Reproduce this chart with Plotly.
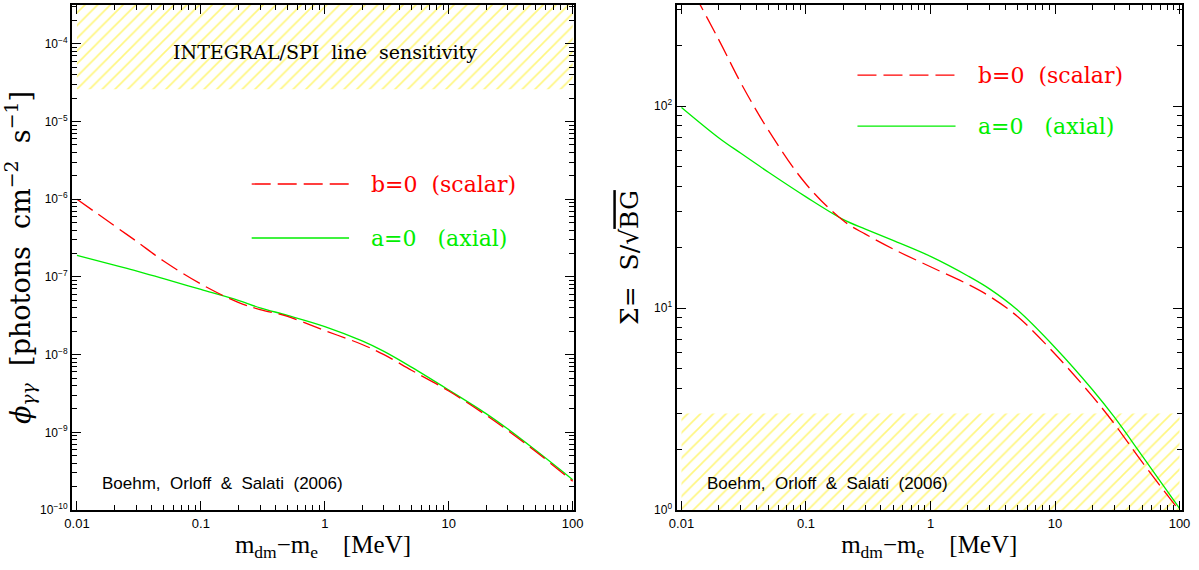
import plotly.graph_objects as go

# ---------------- data ----------------
mass = [0.01, 0.02, 0.03, 0.05, 0.1, 0.2, 0.3, 0.5, 1, 2, 3, 5, 10, 20, 30, 50, 100]

# left panel: photon flux [photons cm^-2 s^-1]
flux_scalar = [1.0e-6, 4.57e-7, 2.9e-7, 1.6e-7, 8.1e-8, 4.7e-8, 3.8e-8, 3.1e-8, 2.04e-8,
               1.35e-8, 1.0e-8, 6.3e-9, 3.4e-9, 1.66e-9, 1.05e-9, 5.7e-10, 2.35e-10]
flux_axial = [1.9e-7, 1.42e-7, 1.2e-7, 9.5e-8, 6.9e-8, 5.0e-8, 4.0e-8, 3.2e-8, 2.3e-8,
              1.5e-8, 1.1e-8, 6.9e-9, 3.5e-9, 1.74e-9, 1.1e-9, 5.9e-10, 2.45e-10]

# right panel: significance S/sqrt(BG)
sig_scalar = [470, 212, 130, 75.7, 41.1, 27.0, 23.2, 19.6, 16.0,
              13.1, 11.4, 9.07, 5.92, 3.65, 2.67, 1.73, 0.99]
sig_axial = [98.4, 69.5, 58.3, 47.0, 35.5, 27.4, 24.6, 21.6, 18.0,
             14.4, 12.4, 9.77, 6.38, 3.94, 2.88, 1.86, 1.02]

# hatched exclusion / sensitivity bands
band_x = [0.01, 100]
left_band_y = [2.6e-5, 3.16e-4]
right_band_y = [1.0, 3.0]

x_tickvals = [0.01, 0.1, 1, 10, 100]
x_ticktext = ["0.01", "0.1", "1", "10", "100"]
left_tickvals = [1e-10, 1e-9, 1e-8, 1e-7, 1e-6, 1e-5, 1e-4]
left_ticktext = ["10<sup>−10</sup>", "10<sup>−9</sup>", "10<sup>−8</sup>", "10<sup>−7</sup>",
                 "10<sup>−6</sup>", "10<sup>−5</sup>", "10<sup>−4</sup>"]
right_tickvals = [1, 10, 100]
right_ticktext = ["10<sup>0</sup>", "10<sup>1</sup>", "10<sup>2</sup>"]

RED = "#ff0000"
GREEN = "#00ee00"
YELLOW = "#ffee00"
SERIF = "DejaVu Serif, Liberation Serif, serif"
SERIF2 = "Liberation Serif, DejaVu Serif, serif"
SANS = "Liberation Sans, Arial, sans-serif"
DASH = "19px,7px"

fig = go.Figure()


def band(xs, ys, xa, ya):
    return go.Scatter(
        x=[xs[0], xs[1], xs[1], xs[0], xs[0]],
        y=[ys[0], ys[0], ys[1], ys[1], ys[0]],
        xaxis=xa, yaxis=ya, mode="lines", line=dict(width=0),
        fill="toself", fillcolor="rgba(0,0,0,0)",
        fillpattern=dict(shape="/", fgcolor=YELLOW, bgcolor="rgba(0,0,0,0)",
                         size=9, solidity=0.18),
        hoverinfo="skip", showlegend=False)


fig.add_trace(band(band_x, left_band_y, "x", "y"))
fig.add_trace(band(band_x, right_band_y, "x2", "y2"))

fig.add_trace(go.Scatter(x=mass, y=flux_axial, xaxis="x", yaxis="y", mode="lines",
                         line=dict(color=GREEN, width=1.3, shape="spline"), showlegend=False))
fig.add_trace(go.Scatter(x=mass, y=flux_scalar, xaxis="x", yaxis="y", mode="lines",
                         line=dict(color=RED, width=1.3, dash=DASH, shape="spline"), showlegend=False))
fig.add_trace(go.Scatter(x=mass, y=sig_axial, xaxis="x2", yaxis="y2", mode="lines",
                         line=dict(color=GREEN, width=1.3, shape="spline"), showlegend=False))
fig.add_trace(go.Scatter(x=mass, y=sig_scalar, xaxis="x2", yaxis="y2", mode="lines",
                         line=dict(color=RED, width=1.3, dash=DASH, shape="spline"), showlegend=False))

common_axis = dict(
    type="log", showline=True, linecolor="black", linewidth=2, mirror="allticks",
    ticks="inside", ticklen=9, tickwidth=1.3, tickcolor="black",
    minor=dict(ticks="inside", ticklen=5, tickwidth=1, tickcolor="black", dtick="D1", showgrid=False),
    showgrid=False, zeroline=False, automargin=False,
)

xtitle = "m<sub>dm</sub>−m<sub>e</sub>    [MeV]"

fig.update_layout(
    width=1199, height=570,
    margin=dict(l=72, r=17, t=5, b=60),
    paper_bgcolor="white", plot_bgcolor="white",
    showlegend=False,
    xaxis=dict(common_axis, domain=[0, 0.4522], range=[-2.04, 2.01],
               tickvals=x_tickvals, ticktext=x_ticktext,
               tickfont=dict(family=SANS, size=13, color="black"),
               title=dict(text=xtitle, font=dict(family=SERIF2, size=25, color="black"), standoff=6),
               anchor="y"),
    yaxis=dict(common_axis, domain=[0, 1], range=[-10, -3.5],
               tickvals=left_tickvals, ticktext=left_ticktext,
               tickfont=dict(family=SANS, size=12, color="black"),
               title=dict(text="<i>ϕ</i><sub><i>γγ</i></sub>  [photons  cm<sup>−2</sup>  s<sup>−1</sup>]",
                          font=dict(family=SERIF, size=27, color="black"), standoff=2),
               anchor="x"),
    xaxis2=dict(common_axis, domain=[0.5446, 1], range=[-2.04, 2.02],
                tickvals=x_tickvals, ticktext=x_ticktext,
                tickfont=dict(family=SANS, size=13, color="black"),
                title=dict(text=xtitle, font=dict(family=SERIF2, size=25, color="black"), standoff=6),
                anchor="y2"),
    yaxis2=dict(common_axis, domain=[0, 1], range=[0, 2.5],
                tickvals=right_tickvals, ticktext=right_ticktext,
                tickfont=dict(family=SANS, size=12, color="black"),
                title=dict(text="Σ=  S/√<span style='text-decoration:overline'>BG</span>",
                           font=dict(family=SERIF, size=25, color="black"), standoff=8),
                anchor="x2"),
)

# legends (drawn as sample lines + coloured labels)
for xr, yr, yd_red, yd_green in [("x domain", "y domain", 0.6455, 0.5386),
                                  ("x2 domain", "y2 domain", 0.861, 0.760)]:
    fig.add_shape(type="line", xref=xr, yref=yr, x0=0.358, x1=0.552, y0=yd_red, y1=yd_red,
                  line=dict(color=RED, width=1.3, dash=DASH))
    fig.add_shape(type="line", xref=xr, yref=yr, x0=0.358, x1=0.552, y0=yd_green, y1=yd_green,
                  line=dict(color=GREEN, width=1.3))
    fig.add_annotation(xref=xr, yref=yr, x=0.592, y=yd_red, xanchor="left", yanchor="middle",
                       text="b=0  (scalar)", showarrow=False,
                       font=dict(family=SERIF, size=22, color=RED))
    fig.add_annotation(xref=xr, yref=yr, x=0.592, y=yd_green, xanchor="left", yanchor="middle",
                       text="a=0   (axial)", showarrow=False,
                       font=dict(family=SERIF, size=22, color=GREEN))
    fig.add_annotation(xref=xr, yref=yr, x=0.056, y=0.053, xanchor="left", yanchor="middle",
                       text="Boehm,  Orloff  &  Salati  (2006)", showarrow=False,
                       font=dict(family=SANS, size=17, color="black"))

fig.add_annotation(xref="x domain", yref="y domain", x=0.504, y=0.907, xanchor="center",
                   yanchor="middle", text="INTEGRAL/SPI  line  sensitivity", showarrow=False,
                   font=dict(family=SERIF, size=19, color="black"))

fig.write_html("out.html", config={"displayModeBar": False},
               post_script="document.body.style.margin='0px';")
